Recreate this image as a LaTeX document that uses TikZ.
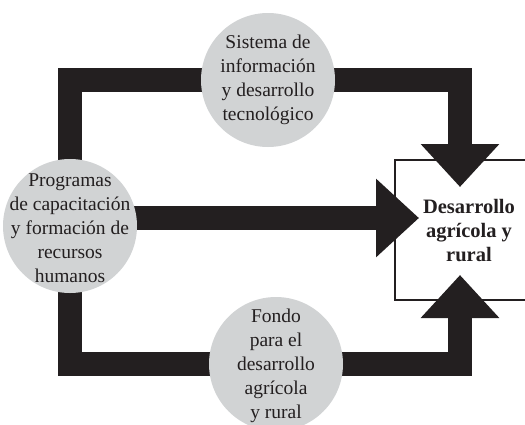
\documentclass[tikz,border=0pt]{standalone}
\usepackage{fontspec}
\setmainfont{Liberation Serif}
\usetikzlibrary{arrows.meta}
\definecolor{ink}{HTML}{231F20}
\definecolor{discgray}{HTML}{D1D3D4}
\pgfdeclarelayer{fg}
\pgfsetlayers{main,fg}
\begin{document}
\begin{tikzpicture}[x=1pt,y=-1pt,
  disc/.style={circle,fill=discgray,draw=none,minimum size=134pt,inner sep=0pt},
  disctext/.style={align=center,text=ink,font=\fontsize{19.5pt}{24pt}\selectfont,inner sep=0pt},
  boxtext/.style={align=center,text=ink,font=\fontsize{20.5pt}{24pt}\selectfont\bfseries,inner sep=0pt},
  goalbox/.style={draw=ink,line width=2pt,minimum width=150pt,minimum height=140pt,inner sep=0pt},
  band/.style={draw=ink,line width=24pt,line join=miter,-{Triangle[width=76pt,length=43pt]}}]
\clip (0,0) rectangle (525,424);
\begin{pgfonlayer}{fg}
\node[disc] (T) at (268,80) {};
\node[disctext] (Tt) at (268,80) {Sistema de\\información\\y desarrollo\\tecnológico};
\node[disc] (L) at (70,226) {};
\node[disctext] (Lt) at (70,228) {Programas\\de capacitación\\y formación de\\recursos\\humanos};
\node[disc] (B) at (276,364) {};
\node[disctext] (Bt) at (276,366) {Fondo\\para el\\desarrollo\\agrícola\\y rural};
\end{pgfonlayer}
\node[goalbox] (D) at (470,230) {};
\node[boxtext] (Dt) at (469,231) {Desarrollo\\agrícola y\\rural};
\coordinate (topTip) at (460,187);
\coordinate (midStart) at (70,218);
\coordinate (midTip) at (419,218);
\coordinate (botTip) at (460,275);
\draw[band] (L.center) |- (T.center) -| (topTip);
\draw[band] (midStart) -- (midTip);
\draw[band] (L.center) |- (B.center) -| (botTip);
\end{tikzpicture}
\end{document}
